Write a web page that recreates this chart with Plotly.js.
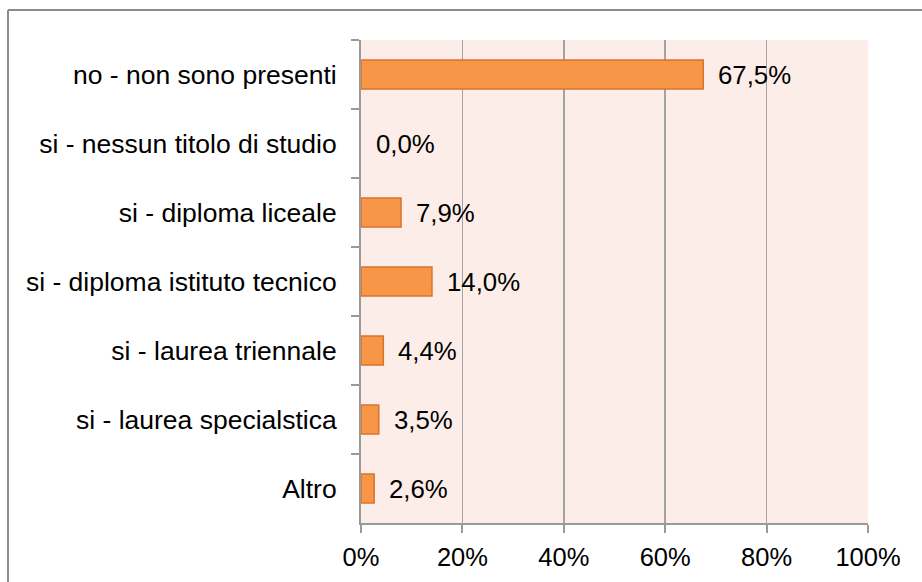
<!DOCTYPE html>
<html><head><meta charset="utf-8">
<script src="https://cdn.plot.ly/plotly-3.0.1.min.js"></script>
<style>html,body{margin:0;padding:0;background:#fff}#chart{width:922px;height:582px}</style>
</head><body><div id="chart"></div>
<script>
const categories = ["no - non sono presenti","si - nessun titolo di studio","si - diploma liceale","si - diploma istituto tecnico","si - laurea triennale","si - laurea specialstica","Altro"];
const values = [67.5, 0.0, 7.9, 14.0, 4.4, 3.5, 2.6];
const xTickVals = [0, 20, 40, 60, 80, 100];

const W = 922, H = 582;
const margin = {l: 361, r: 54, t: 40, b: 59};
const pw = W - margin.l - margin.r, ph = H - margin.t - margin.b;
const px2x = p => (p - margin.l) / pw;
const py2y = p => 1 - (p - margin.t) / ph;

const labels = values.map(v => v.toFixed(1).replace('.', ',') + '%');

const trace = {
  type: 'bar', orientation: 'h',
  x: values, y: categories,
  width: 0.42,
  marker: {color: '#f79646', line: {color: '#d8732f', width: values.map(v => v > 0 ? 1.5 : 0)}},
  hoverinfo: 'none'
};

const annotations = values.map((v, i) => ({
  x: v, y: categories[i], xref: 'x', yref: 'y',
  text: labels[i], showarrow: false, xanchor: 'left', yanchor: 'middle',
  xshift: 13, font: {family: 'Liberation Sans, Arial, sans-serif', size: 25.8, color: '#000'}
}));

const layout = {
  width: W, height: H, margin: margin,
  paper_bgcolor: '#fff', plot_bgcolor: '#fdede8',
  showlegend: false, separators: ',.',
  font: {family: 'Liberation Sans, Arial, sans-serif', size: 25, color: '#000'},
  xaxis: {
    range: [0, 100], tickvals: xTickVals, ticktext: xTickVals.map(v => v + '%'),
    showgrid: true, gridcolor: '#a3a3a3', gridwidth: 1.5,
    showline: true, linecolor: '#9a9a9a', linewidth: 2,
    ticks: 'outside', ticklen: 8, tickcolor: '#9a9a9a', tickwidth: 2,
    zeroline: false, fixedrange: true,
    tickfont: {size: 25.5}, ticklabelstandoff: 2
  },
  yaxis: {
    type: 'category', autorange: 'reversed',
    showline: true, linecolor: '#9a9a9a', linewidth: 2,
    ticks: 'outside', tickson: 'boundaries', ticklen: 8, tickcolor: '#9a9a9a', tickwidth: 2,
    showgrid: false, zeroline: false, fixedrange: true,
    tickfont: {size: 26.5}, ticklabelstandoff: 17
  },
  annotations: annotations,
  shapes: [
    {type: 'line', xref: 'paper', yref: 'paper', x0: px2x(8), x1: px2x(930), y0: py2y(10), y1: py2y(10), line: {color: '#8c8c8c', width: 2}, layer: 'below'},
    {type: 'line', xref: 'paper', yref: 'paper', x0: px2x(8), x1: px2x(8), y0: py2y(10), y1: py2y(600), line: {color: '#8c8c8c', width: 2}, layer: 'below'}
  ]
};

Plotly.newPlot('chart', [trace], layout, {displayModeBar: false, staticPlot: true});
</script></body></html>
